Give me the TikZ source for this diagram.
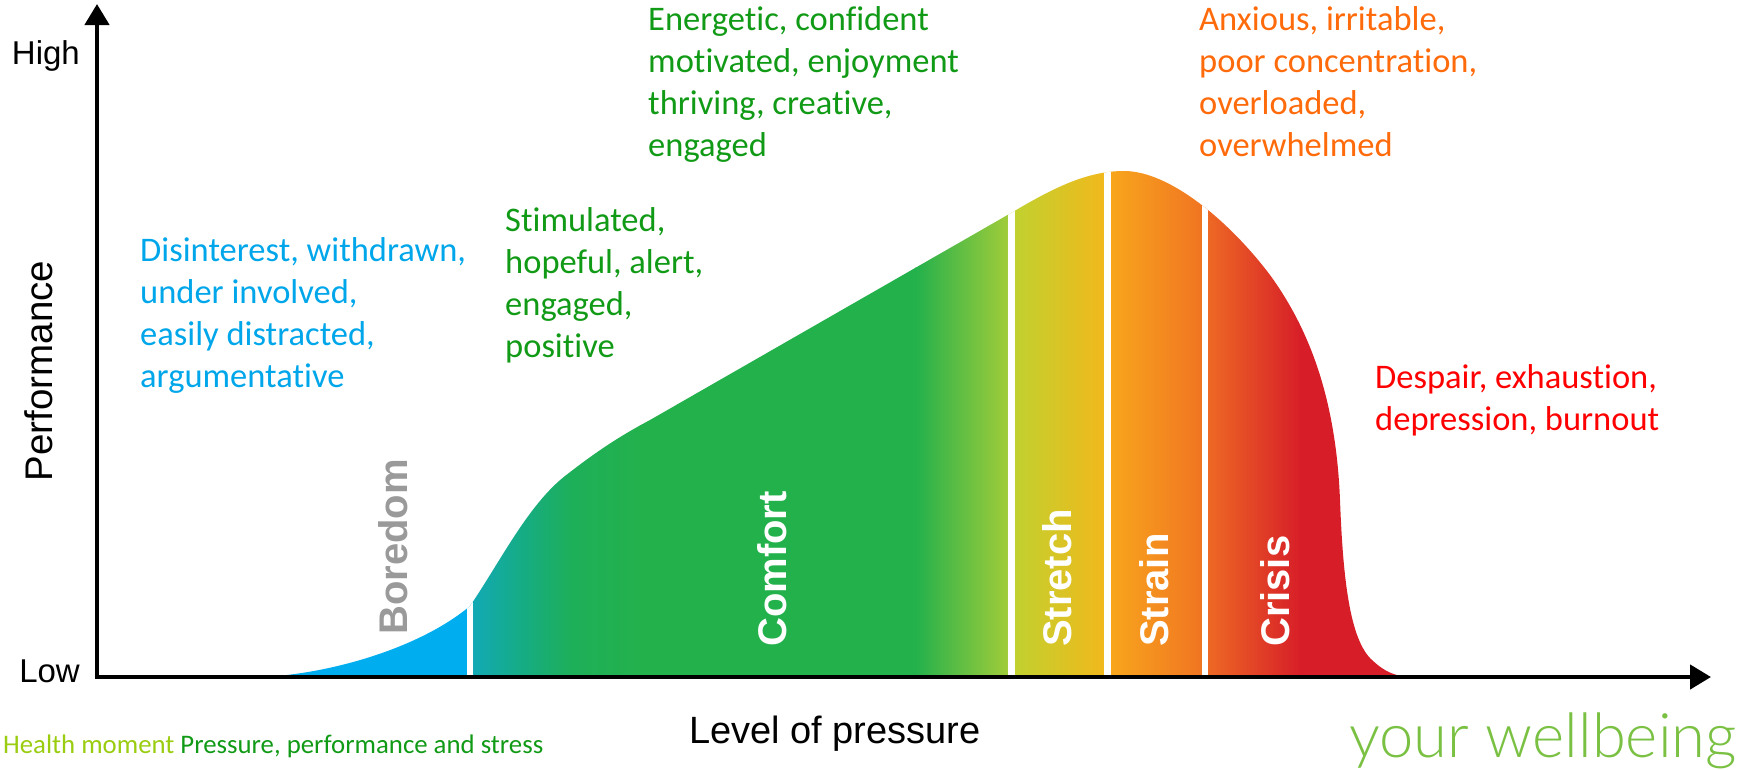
\documentclass[tikz,border=0pt]{standalone}
\usepackage{fontspec}
\setmainfont{Carlito}[Ligatures=NoCommon]
\newfontfamily\axisfont{Liberation Sans}
\newfontfamily\thinfont{Lato Light}
\usetikzlibrary{arrows.meta}

% text colours
\definecolor{moodblue}{HTML}{00A6EA}
\definecolor{moodgreen}{HTML}{119A16}
\definecolor{moodorange}{HTML}{FF6A0A}
\definecolor{moodred}{HTML}{FF0000}
\definecolor{limetext}{HTML}{9ACC10}
\definecolor{brandgreen}{HTML}{7AC143}
\definecolor{boredgrey}{HTML}{9A9A9A}
% curve colours
\definecolor{zblue}{HTML}{00AEEF}
\definecolor{zteal}{HTML}{13A9B8}
\definecolor{zteal2}{HTML}{15AC86}
\definecolor{zgreen1}{HTML}{1EAF5A}
\definecolor{zgreen}{HTML}{23B14C}
\definecolor{zlime}{HTML}{A5CD39}
\definecolor{zstretchL}{HTML}{BFD230}
\definecolor{zstretchR}{HTML}{F3B71B}
\definecolor{zstrainL}{HTML}{F8A71C}
\definecolor{zstrainR}{HTML}{F07322}
\definecolor{zcrisisL}{HTML}{EE6B24}
\definecolor{zred}{HTML}{D71E28}

\tikzset{
  axisline/.style={line width=4.5pt, line join=miter,
    {Triangle[length=21pt,width=24pt]}-{Triangle[length=21pt,width=24pt]}},
  zone/.style={rotate=90, anchor=west, inner sep=0pt, text=white,
    font=\axisfont\bfseries\fontsize{40}{48}\selectfont},
  mood/.style={anchor=base west, inner sep=0pt,
    font=\fontsize{34.5}{42}\selectfont},
  axislabel/.style={inner sep=0pt, font=\axisfont\fontsize{33}{40}\selectfont},
  divider/.style={white, line width=6.5pt},
}

\begin{document}
\begin{tikzpicture}[x=1pt,y=-1pt]
\useasboundingbox (0,0) rectangle (1752,769);

% axis end points
\coordinate (origin) at (97,677);
\coordinate (ytip) at (97,4);
\coordinate (xtip) at (1711,677);

% coloured performance curve
\begin{scope}
  \clip (262,677) .. controls (330,674) and (420,648) .. (470,606)
    .. controls (500,562) and (528,505) .. (565,476)
    .. controls (597,451) and (620,436) .. (650,420)
    -- (1011,213)
    .. controls (1050,190) and (1085,171) .. (1124,171)
    .. controls (1170,171) and (1230,222) .. (1270,275)
    .. controls (1310,330) and (1336,400) .. (1340,500)
    .. controls (1343,580) and (1350,640) .. (1372,660)
    .. controls (1385,672) and (1395,677) .. (1415,677) -- cycle;
  \fill[zblue] (255,150) rectangle (471,680);
  \shade[left color=zteal, right color=zteal2] (470,150) rectangle (520.5,680);
  \shade[left color=zteal2, right color=zgreen1] (520,150) rectangle (570.5,680);
  \shade[left color=zgreen1, right color=zgreen] (570,150) rectangle (640.5,680);
  \fill[zgreen] (640,150) rectangle (915.5,680);
  \shade[left color=zgreen, right color=zlime] (915,150) rectangle (1011.5,680);
  \shade[left color=zstretchL, right color=zstretchR] (1011,150) rectangle (1108.5,680);
  \shade[left color=zstrainL, right color=zstrainR] (1108,150) rectangle (1205.5,680);
  \shade[left color=zcrisisL, right color=zred] (1205,150) rectangle (1300.5,680);
  \fill[zred] (1300,150) rectangle (1420,680);
  % white dividers between the zones
  \draw[divider] (470,150) -- (470,690);
  \draw[divider] (1011.5,150) -- (1011.5,690);
  \draw[divider] (1107.5,150) -- (1107.5,690);
  \draw[divider] (1205,150) -- (1205,690);
\end{scope}

% zone names
\node[zone, text=boredgrey] (boredom) at (393,635) {Boredom};
\node[zone] (comfort) at (772,647) {Comfort};
\node[zone] (stretch) at (1057,647) {Stretch};
\node[zone] (strain) at (1154,647) {Strain};
\node[zone] (crisis) at (1275,647) {Crisis};

% axes
\draw[axisline] (ytip) -- (origin) -- (xtip);

% axis labels
\node[axislabel, anchor=base east] (high) at (80,64) {High};
\node[axislabel, anchor=base east] (low) at (80,682) {Low};
\node[axislabel, rotate=90, font=\axisfont\fontsize{38.5}{46}\selectfont] (perf) at (39,371) {Performance};
\node[axislabel, anchor=base west, font=\axisfont\fontsize{38}{45}\selectfont] (pressure) at (689,743) {Level of pressure};

% feelings in each zone
\node[mood, text=moodblue] (boredtxt) at (140,261)
  {\begin{tabular}[t]{@{}l@{}}Disinterest, withdrawn,\\under involved,\\easily distracted,\\argumentative\end{tabular}};
\node[mood, text=moodgreen] (comforttxt) at (505,231)
  {\begin{tabular}[t]{@{}l@{}}Stimulated,\\hopeful, alert,\\engaged,\\positive\end{tabular}};
\node[mood, text=moodgreen] (stretchtxt) at (648,30)
  {\begin{tabular}[t]{@{}l@{}}Energetic, confident\\motivated, enjoyment\\thriving, creative,\\engaged\end{tabular}};
\node[mood, text=moodorange] (straintxt) at (1199,30)
  {\begin{tabular}[t]{@{}l@{}}Anxious, irritable,\\poor concentration,\\overloaded,\\overwhelmed\end{tabular}};
\node[mood, text=moodred] (crisistxt) at (1375,388)
  {\begin{tabular}[t]{@{}l@{}}Despair, exhaustion,\\depression, burnout\end{tabular}};

% footer
\node[anchor=base west, inner sep=0pt, font=\fontsize{26.8}{32}\selectfont] (footer) at (3,753)
  {\textcolor{limetext}{Health moment} \textcolor{moodgreen}{Pressure, performance and stress}};
\node[anchor=base west, inner sep=0pt, text=brandgreen, font=\thinfont\fontsize{61.5}{74}\selectfont] (brand) at (1349,757) {your wellbeing};
\end{tikzpicture}
\end{document}
